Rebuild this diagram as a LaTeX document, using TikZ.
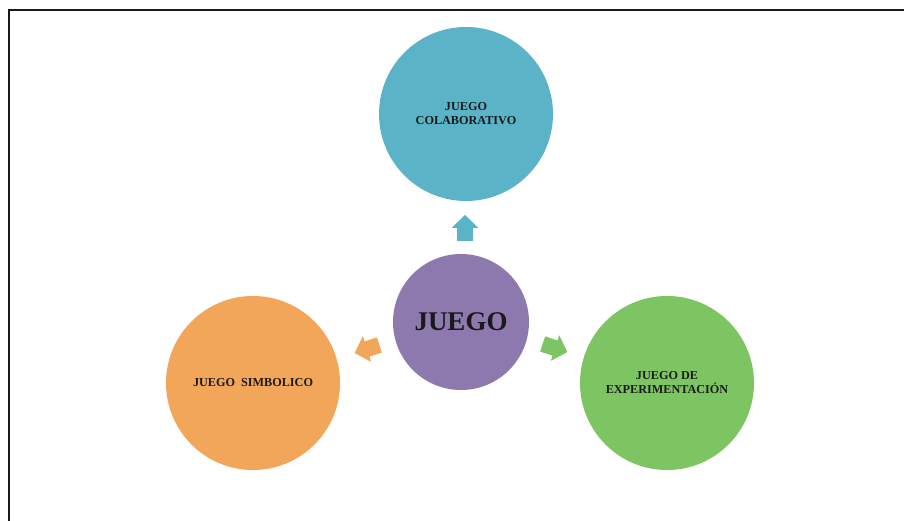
\documentclass[tikz,border=0pt]{standalone}
\usepackage{fontspec}
\setmainfont{Liberation Serif}
\definecolor{cteal}{HTML}{5BB3C8}
\definecolor{cpurple}{HTML}{8E79AF}
\definecolor{corange}{HTML}{F2A65A}
\definecolor{cgreen}{HTML}{7DC462}
\definecolor{ctext}{HTML}{1A1A1A}
\tikzset{
  bubble/.style={circle, minimum size=174pt, inner sep=0pt, text=ctext, align=center,
    font=\fontsize{12.2}{14}\selectfont\bfseries},
  hub/.style={circle, minimum size=136pt, inner sep=0pt, fill=cpurple, text=ctext,
    font=\fontsize{27}{29}\selectfont\bfseries},
  blockarrow/.pic={\fill (-13pt,-8pt) -- (0pt,-8pt) -- (0pt,-13.5pt) -- (13pt,0pt)
     -- (0pt,13.5pt) -- (0pt,8pt) -- (-13pt,8pt) -- cycle;},
  frame/.style={line width=2pt, black!90}
}
\begin{document}
\begin{tikzpicture}[x=1pt,y=-1pt]
\useasboundingbox (0,0) rectangle (904,521);
\draw[frame] (9,521) -- (9,10) -- (904,10);
\node[hub] (juego) at (461,322) {JUEGO};
\node[bubble, fill=cteal] (colab) at (466,114) {JUEGO\\COLABORATIVO};
\node[bubble, fill=corange] (simb) at (253,383) {JUEGO\ \ SIMBOLICO};
\node[bubble, fill=cgreen] (exper) at (667,383) {JUEGO DE\\EXPERIMENTACIÓN};
\path (465,228) pic[rotate=90,fill=cteal] {blockarrow};
\path (367,349) pic[rotate=198,fill=corange] {blockarrow};
\path (555,348) pic[rotate=-18,fill=cgreen] {blockarrow};
\end{tikzpicture}
\end{document}
